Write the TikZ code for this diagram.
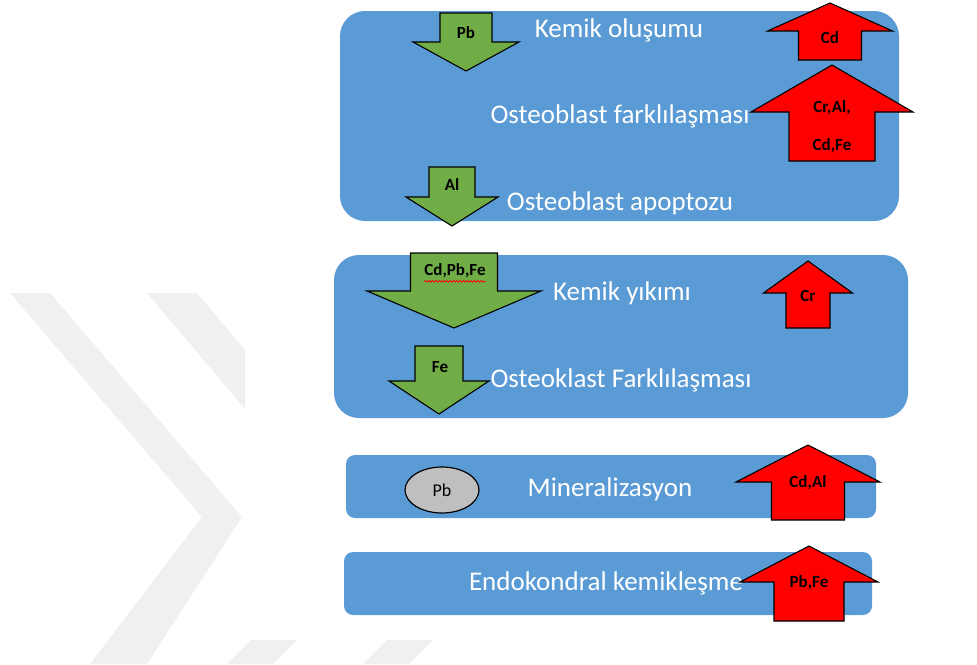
\documentclass[tikz,border=0pt]{standalone}
\usepackage{fontspec}
\setmainfont{Carlito}
\usetikzlibrary{shapes.geometric,decorations.pathmorphing}

% block arrow: style, centre x, shaft half width, head half width, end y, head base y, tip y
\newcommand{\blockarrow}[7]{%
	\draw[#1] ({#2-#3},#5) -- ({#2+#3},#5) -- ({#2+#3},#6) -- ({#2+#4},#6)
		-- (#2,#7) -- ({#2-#4},#6) -- ({#2-#3},#6) -- cycle;}

\definecolor{boxblue}{HTML}{5B9BD5}
\definecolor{downgreen}{HTML}{70AD47}
\definecolor{upred}{HTML}{FF0000}

\begin{document}
\begin{tikzpicture}
		[
			x=1pt, y=-1pt,
			box/.style={fill=boxblue, draw=none},
			wmark/.style={fill=black!6, draw=none},
			down/.style={fill=downgreen, draw=black, line width=1.1pt, line join=miter},
			up/.style={fill=upred, draw=black, line width=1.1pt, line join=miter},
			stage/.style={text=white, inner sep=0pt, font=\fontsize{27}{30}\selectfont},
			tag/.style={text=black, inner sep=0pt, font=\bfseries\fontsize{17}{19}\selectfont}
		]

		\useasboundingbox (0,0) rectangle (977,664);

		% watermark
		\fill[wmark] (10,293) -- (50,293) -- (242,517) -- (147,664) -- (90,664) -- (202,517) -- cycle;
		\fill[wmark] (147,293) -- (197,293) -- (245,350) -- (245,409) -- cycle;
		\fill[wmark] (227,664) -- (251,640) -- (297,640) -- (273,664) -- cycle;
		\fill[wmark] (363,664) -- (387,640) -- (433,640) -- (409,664) -- cycle;

		% boxes
		\fill[box, rounded corners=25pt] (340,11) rectangle (899,221);
		\fill[box, rounded corners=25pt] (334,255) rectangle (908,418);
		\fill[box, rounded corners=9pt]  (346,455) rectangle (876,518);
		\fill[box, rounded corners=9pt]  (344,552) rectangle (872,615);

		% stages
		\node[stage] (kol) at ( 619,  30 ) {Kemik oluşumu};
		\node[stage] (obf) at ( 620, 116 ) {Osteoblast farklılaşması};
		\node[stage] (oba) at ( 620, 203 ) {Osteoblast apoptozu};
		\node[stage] (kyk) at ( 622, 293 ) {Kemik yıkımı};
		\node[stage] (okf) at ( 621, 380 ) {Osteoklast Farklılaşması};
		\node[stage] (min) at ( 610, 489 ) {Mineralizasyon};
		\node[stage] (enk) at ( 606, 583 ) {Endokondral kemikleşme};

		% decreasing
		\blockarrow{down}{466}{26}{53}{13}{42}{71}
		\blockarrow{down}{452}{23}{46}{167}{197}{226}
		\blockarrow{down}{454}{43.5}{87}{253}{291}{328}
		\blockarrow{down}{439}{24}{50}{346}{381}{414}

		% increasing
		\blockarrow{up}{830}{31.5}{62.5}{60}{31}{3}
		\blockarrow{up}{832}{43}{81}{161}{112}{65}
		\blockarrow{up}{808}{22}{44.5}{328}{293}{261}
		\blockarrow{up}{808}{36.5}{72}{520}{482}{445}
		\blockarrow{up}{809}{35}{69}{621}{582}{546}

		% metal labels
		\node[tag] (pb1)  at ( 466,  33 ) {Pb};
		\node[tag] (al1)  at ( 452, 185 ) {Al};
		\node[tag] (cpf)  at ( 455, 271 ) {Cd,Pb,Fe};
		\node[tag] (fe1)  at ( 440, 367 ) {Fe};
		\node[tag] (cd1)  at ( 830,  38 ) {Cd};
		\node[tag] (cra)  at ( 832, 108 ) {Cr,Al,};
		\node[tag] (cdf)  at ( 832, 146 ) {Cd,Fe};
		\node[tag] (cr1)  at ( 808, 296 ) {Cr};
		\node[tag] (cda)  at ( 808, 483 ) {Cd,Al};
		\node[tag] (pbf)  at ( 809, 583 ) {Pb,Fe};
		\draw[upred, line width=0.8pt, decorate, decoration={snake, amplitude=0.9pt, segment length=3.5pt}]
			([yshift=-3pt]cpf.south west) -- ([yshift=-3pt]cpf.south east);

		\node[draw, ellipse, fill=black!25, line width=1.2pt, minimum width=74pt, minimum height=46pt,
			inner sep=0pt, font=\fontsize{18}{20}\selectfont] (pb2) at ( 442, 490 ) {Pb};

	\end{tikzpicture}
\end{document}
